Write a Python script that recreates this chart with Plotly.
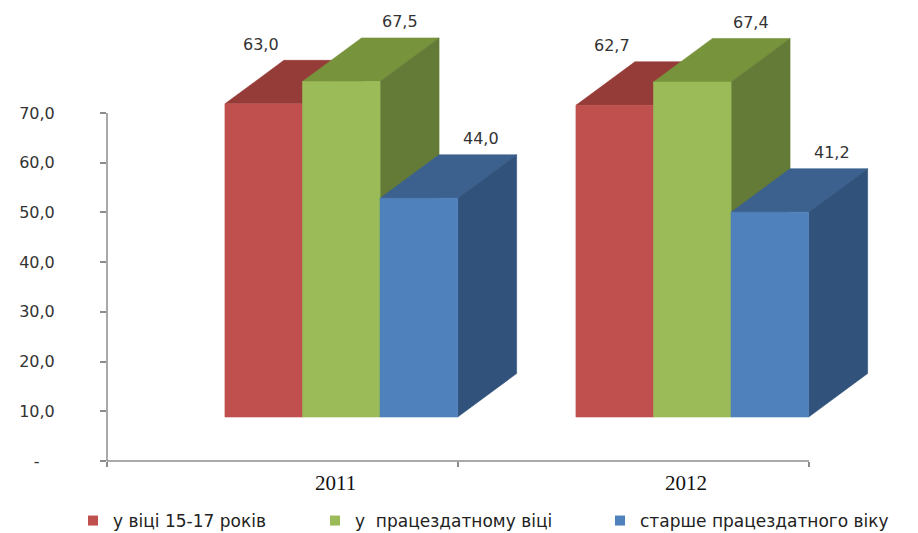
import plotly.graph_objects as go

# ---------------- data ----------------
years = ["2011", "2012"]
series_names = ["у віці 15-17 років", "у  працездатному віці", "старше працездатного віку"]
teens = [63.0, 62.7]
working_age = [67.5, 67.4]
older = [44.0, 41.2]
y_tick_vals = [0, 10, 20, 30, 40, 50, 60, 70]
y_tick_text = ["-\u00a0\u00a0\u00a0", "10,0", "20,0", "30,0", "40,0", "50,0", "60,0", "70,0"]

series_values = [teens, working_age, older]

# ---------------- style ----------------
front_colors = ["#C0504D", "#9BBB59", "#4F81BD"]
top_colors = ["#953B38", "#77933C", "#3C618F"]
side_colors = ["#7A2E2C", "#647B37", "#31527A"]
label_depth = [-0.05, 1.0, 1.05]   # where the value label sits along the depth

PAGE = 8                 # default page margin around the figure
W, H = 918 - 2 * PAGE, 533 - PAGE
ML, MR, MT, MB = 107 - PAGE, 13 - PAGE, 30 - PAGE, 533 - 461
PX_PER_X = 351.0
PX_PER_Y = 4.971
XMAX = (W - ML - MR) / PX_PER_X
YMAX = (H - MT - MB) / PX_PER_Y

GROUP_START = 0.336      # 3-D projection offset of the bar group in a category slot
BAR_W = 0.221
FLOOR = 8.85             # projected floor height of the 3-D bars
DX, DY = 0.168, 8.75     # depth vector of the 3-D bars

fig = go.Figure()

for j, vals in enumerate(series_values):
    top_x, top_y, side_x, side_y, front_x, front_y = [], [], [], [], [], []
    for i, v in enumerate(vals):
        x0 = i + GROUP_START + j * BAR_W
        x1 = x0 + BAR_W
        yb = FLOOR
        yt = FLOOR + v
        top_x += [x0, x1, x1 + DX, x0 + DX, x0, None]
        top_y += [yt, yt, yt + DY, yt + DY, yt, None]
        side_x += [x1, x1 + DX, x1 + DX, x1, x1, None]
        side_y += [yb, yb + DY, yt + DY, yt, yb, None]
        front_x += [x0, x1, x1, x0, x0, None]
        front_y += [yb, yb, yt, yt, yb, None]
        fig.add_annotation(
            x=(x0 + x1) / 2 + label_depth[j] * DX, y=yt + DY,
            xref="x", yref="y", text=f"{v:.1f}".replace(".", ","),
            showarrow=False, yanchor="middle", yshift=16,
            font=dict(family="DejaVu Sans", size=16, color="#333333"),
        )
    for xs, ys, col in [(top_x, top_y, top_colors[j]),
                        (side_x, side_y, side_colors[j]),
                        (front_x, front_y, front_colors[j])]:
        fig.add_trace(go.Scatter(
            x=xs, y=ys, mode="lines", fill="toself", fillcolor=col,
            line=dict(color=col, width=0.6), hoverinfo="skip",
            showlegend=False,
        ))

# legend entries
legend_keys = ["legend", "legend2", "legend3"]
legend_text_px = [113, 355, 640]
for j, name in enumerate(series_names):
    fig.add_trace(go.Scatter(
        x=[None], y=[None], mode="markers", name=name,
        marker=dict(symbol="square", size=10, color=front_colors[j]),
        legend=legend_keys[j], showlegend=True,
    ))

plot_h = H - MT - MB
plot_w = W - ML - MR
legend_y = (H - MB - (521 - PAGE)) / plot_h
legend_common = dict(
    xanchor="left", yanchor="middle", y=legend_y, orientation="h",
    bgcolor="rgba(0,0,0,0)", itemwidth=30,
    font=dict(family="DejaVu Sans", size=17, color="#222222"),
)
legend_layout = {}
for key, px in zip(legend_keys, legend_text_px):
    legend_layout[key] = dict(legend_common, x=(px - PAGE - 40 - ML) / plot_w)

# category labels
cat_label_shift = 0.15
for i, yr in enumerate(years):
    fig.add_annotation(
        x=i + 0.5 + cat_label_shift, y=(H - MB - (483 - PAGE)) / plot_h,
        xref="x", yref="paper", text=yr, showarrow=False, yanchor="middle",
        font=dict(family="Liberation Serif", size=21, color="#111111"),
    )

axis_col = "#8C8C8C"
# axis lines (only over the data extent, as in the original)
fig.add_shape(type="line", xref="paper", yref="paper",
              x0=0, x1=len(years) / XMAX, y0=0, y1=0,
              line=dict(color=axis_col, width=1.5))
fig.add_shape(type="line", xref="paper", yref="paper",
              x0=0, x1=0, y0=0, y1=max(y_tick_vals) / YMAX,
              line=dict(color=axis_col, width=1.5))

fig.update_layout(
    width=W, height=H,
    margin=dict(l=ML, r=MR, t=MT, b=MB, autoexpand=False),
    plot_bgcolor="white", paper_bgcolor="white",
    xaxis=dict(range=[0, XMAX], showgrid=False, zeroline=False, showline=False,
               tickmode="array", tickvals=list(range(len(years) + 1)),
               showticklabels=False, ticks="outside", ticklen=5,
               tickcolor=axis_col, tickwidth=1.5, fixedrange=True,
               automargin=False),
    yaxis=dict(range=[0, YMAX], showgrid=False, zeroline=False, showline=False,
               tickmode="array", tickvals=y_tick_vals, ticktext=y_tick_text,
               ticks="outside", ticklen=6, tickcolor=axis_col, tickwidth=1.5,
               ticklabelstandoff=42, automargin=False,
               tickfont=dict(family="DejaVu Sans", size=16, color="#333333"),
               fixedrange=True),
    **legend_layout,
)

fig.write_html("out.html")
